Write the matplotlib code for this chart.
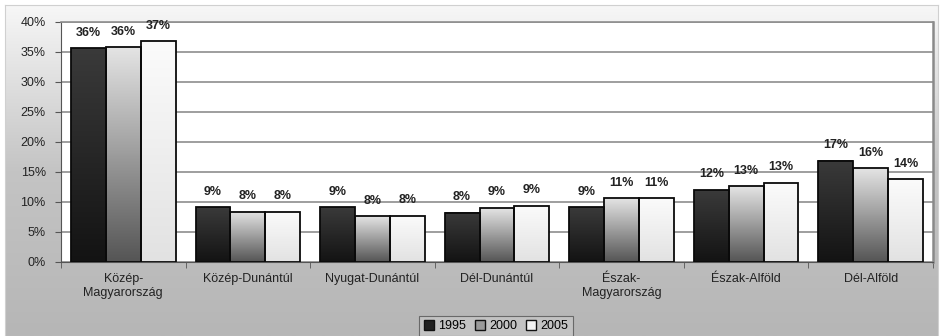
import numpy as np
import matplotlib
matplotlib.use("Agg")
import matplotlib.pyplot as plt
from matplotlib.patches import Patch, Rectangle
from matplotlib.colors import LinearSegmentedColormap
from matplotlib.ticker import FuncFormatter, MultipleLocator

plt.rcParams["font.family"] = ["Liberation Sans", "DejaVu Sans"]

regions = ["Közép-\nMagyarország", "Közép-Dunántúl", "Nyugat-Dunántúl", "Dél-Dunántúl",
           "Észak-\nMagyarország", "Észak-Alföld", "Dél-Alföld"]
years = ["1995", "2000", "2005"]
share_1995 = [35.6, 9.1, 9.1, 8.2, 9.1, 12.0, 16.9]
share_2000 = [35.8, 8.4, 7.6, 9.0, 10.6, 12.6, 15.6]
share_2005 = [36.8, 8.4, 7.7, 9.4, 10.6, 13.2, 13.8]

# (top colour, bottom colour) of the gradient in each series
grad_colors = [("#3a3a3a", "#131313"), ("#e4e4e4", "#555555"), ("#fbfbfb", "#e2e2e2")]
legend_colors = ["#202020", "#9a9a9a", "#f2f2f2"]

W, H = 941, 336
fig = plt.figure(figsize=(W / 100, H / 100), dpi=100, facecolor="white")

# chart area with a light-to-grey vertical gradient
bg = fig.add_axes([5 / W, 0, 933 / W, 331 / H], zorder=-5)
bg_cmap = LinearSegmentedColormap.from_list("bg", ["#f7f7f7", "#c4c4c4", "#b6b6b6"])
bg.imshow(np.linspace(0, 1, 256).reshape(-1, 1), cmap=bg_cmap, aspect="auto",
          extent=[0, 1, 0, 1], origin="upper")
bg.set_xlim(0, 1)
bg.set_ylim(0, 1)
bg.set_xticks([])
bg.set_yticks([])
for s in bg.spines.values():
    s.set_color("#d0d0d0")
    s.set_linewidth(0.8)

ax = fig.add_axes([61 / W, 1 - 262 / H, (933 - 61) / W, (262 - 22) / H])
ax.set_facecolor("white")

series = [share_1995, share_2000, share_2005]
x = np.arange(len(regions))
width = 0.28
offsets = [-width, 0, width]

for k, vals in enumerate(series):
    cmap = LinearSegmentedColormap.from_list(f"g{k}", [grad_colors[k][1], grad_colors[k][0]])
    grad = np.linspace(0, 1, 128).reshape(-1, 1)
    for i, v in enumerate(vals):
        x0 = x[i] + offsets[k] - width / 2
        ax.imshow(grad, cmap=cmap, aspect="auto", origin="lower",
                  extent=[x0, x0 + width, 0, v], zorder=2)
        ax.add_patch(Rectangle((x0, 0), width, v, facecolor="none",
                               edgecolor="#0a0a0a", linewidth=1.3, zorder=3))
        ax.text(x[i] + offsets[k], v + 1.6, f"{round(v)}%", ha="center", va="bottom",
                fontsize=9, fontweight="bold", color="#222222", zorder=4)

ax.set_xlim(-0.5, len(regions) - 0.5)
ax.set_ylim(0, 40)
ax.yaxis.set_major_locator(MultipleLocator(5))
ax.yaxis.set_major_formatter(FuncFormatter(lambda v, _: f"{v:.0f}%"))
ax.grid(axis="y", color="#8e8e8e", linewidth=1.2, zorder=0)
ax.set_axisbelow(True)

ax.set_xticks(x)
ax.set_xticklabels(regions, fontsize=9, color="#222222", linespacing=1.2)
ax.set_xticks(np.arange(len(regions) + 1) - 0.5, minor=True)
ax.tick_params(axis="x", which="major", length=0, pad=8)
ax.tick_params(axis="x", which="minor", length=4, color="#555555", direction="out")
ax.tick_params(axis="y", length=4, color="#555555", labelsize=9, labelcolor="#222222", pad=7)

ax.spines["left"].set_color("#555555")
ax.spines["bottom"].set_color("#555555")
ax.spines["top"].set_color("#8e8e8e")
ax.spines["top"].set_linewidth(1.2)
ax.spines["right"].set_color("#8a8a8a")
ax.spines["right"].set_linewidth(1.8)

handles = [Patch(facecolor=c, edgecolor="#111111", linewidth=1.0) for c in legend_colors]
leg = fig.legend(handles, years, loc="center", bbox_to_anchor=(496 / W, 1 - 326 / H),
                 ncol=3, fontsize=9, frameon=True, fancybox=False, handlelength=0.8,
                 handleheight=0.8, handletextpad=0.35, columnspacing=0.7,
                 borderpad=0.35, borderaxespad=0)
leg.get_frame().set_facecolor("#c6c6c6")
leg.get_frame().set_edgecolor("#555555")
leg.get_frame().set_linewidth(0.8)

fig.savefig("out.png", dpi=100, facecolor=fig.get_facecolor())
plt.close(fig)
